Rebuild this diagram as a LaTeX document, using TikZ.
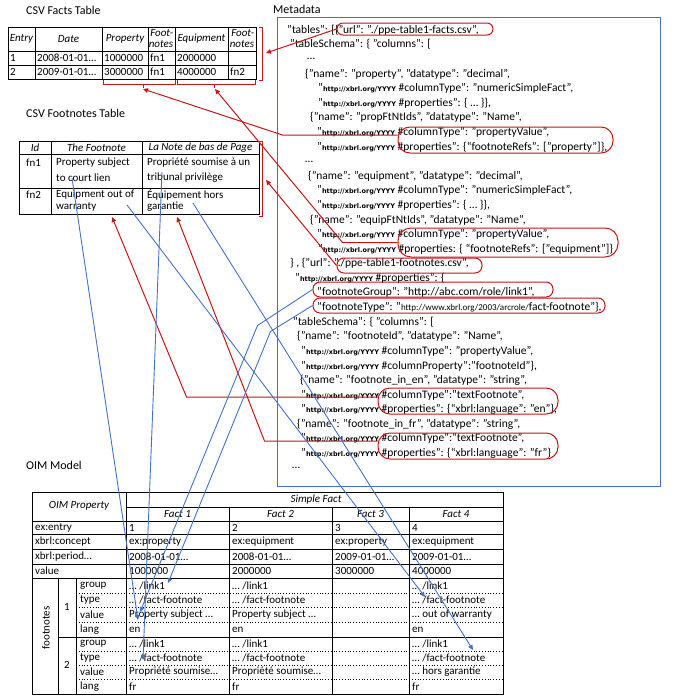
\documentclass[tikz,border=0pt]{standalone}
\usepackage{fontspec}
\setmainfont{Carlito}
\newfontfamily\urlfont{DejaVu Sans}
\usetikzlibrary{arrows.meta}
\definecolor{rd}{RGB}{200,20,20}
\definecolor{bl}{RGB}{68,114,196}
\newcommand\hx{{\urlfont\bfseries\fontsize{6.5}{8}\selectfont http://xbrl.org/YYYY}}
\newcommand\hy{{\fontsize{9}{10}\selectfont http://www.xbrl.org/2003/arcrole/}}
\begin{document}
\begin{tikzpicture}[x=1pt,y=-1pt,
  ttl/.style={font=\fontsize{12}{14}\selectfont, anchor=west, inner sep=0},
  md/.style={font=\fontsize{11.5}{13}\selectfont, anchor=west, inner sep=0},
  tb/.style={font=\fontsize{11}{13}\selectfont, anchor=west, inner sep=0},
  hd/.style={font=\fontsize{11}{11}\selectfont\itshape, inner sep=0, align=center},
  hdr/.style={font=\fontsize{11}{11}\selectfont\itshape, inner sep=0, align=right},
  grid/.style={line width=1pt, black},
  dotl/.style={line width=0.8pt, black, dotted},
  oval/.style={draw=rd, line width=1pt, rounded corners=#1, inner sep=0},
  rbr/.style={draw=rd, line width=1pt},
  rarr/.style={draw=rd, line width=1pt, -{Triangle[length=5pt,width=4.5pt]}},
  barr/.style={draw=bl, line width=0.9pt, -{Triangle[length=5pt,width=4.5pt]}},
]
\useasboundingbox (0,0) rectangle (687,696);

% titles
\node[ttl] (tFacts) at (26,10) {CSV Facts Table};
\node[ttl] (tFoot) at (26,113) {CSV Footnotes Table};
\node[ttl] (tMeta) at (273,9) {Metadata};
\node[ttl] (tOIM) at (26,465) {OIM Model};

% ---------- CSV facts table ----------
\draw[grid] (8,27) rectangle (256,79);
\draw[grid] (8,51) -- (256,51) (8,65) -- (256,65);
\foreach \x in {35,102,148,175,228} \draw[grid] (\x,27) -- (\x,79);
\node[hd] (fh1) at (21.5,39) {Entry};
\node[hd] (fh2) at (68.5,39) {Date};
\node[hd] (fh3) at (125,39) {Property};
\node[hdr] (fh4) at (161,39) {Foot-\\notes};
\node[hd] (fh5) at (201.5,39) {Equipment};
\node[hdr] (fh6) at (242,39) {Foot-\\notes};
\node[tb] (fa1) at (10,58) {1};
\node[tb] (fa2) at (37,58) {2008-01-01…};
\node[tb] (fa3) at (104,58) {1000000};
\node[tb] (fa4) at (150,58) {fn1};
\node[tb] (fa5) at (177,58) {2000000};
\node[tb] (fb1) at (10,72) {2};
\node[tb] (fb2) at (37,72) {2009-01-01…};
\node[tb] (fb3) at (104,72) {3000000};
\node[tb] (fb4) at (150,72) {fn1};
\node[tb] (fb5) at (177,72) {4000000};
\node[tb] (fb6) at (230,72) {fn2};
% brackets
\draw[rbr] (259,27) -- (262,27) -- (262,80) -- (259,80);
\draw[rbr] (103,80) -- (103,84) -- (175,84) -- (175,80) (143,84) -- (143,88);
\draw[rbr] (177,80) -- (177,84) -- (255,84) -- (255,80) (214,84) -- (214,88);
\coordinate (tkP) at (143,89);
\coordinate (tkE) at (215,89);
\coordinate (cR1) at (266,53);

% ---------- CSV footnotes table ----------
\draw[grid] (19,141) rectangle (259,214);
\draw[grid] (19,154) -- (259,154) (19,188) -- (259,188);
\foreach \x in {51,142} \draw[grid] (\x,141) -- (\x,214);
\node[hd] (nh1) at (35,147.5) {Id};
\node[hd] (nh2) at (96.5,147.5) {The Footnote};
\node[hd] (nh3) at (200.5,147.5) {La Note de bas de Page};
\node[tb] (na1) at (26,163) {fn1};
\node[tb] (na2) at (56,163) {Property subject};
\node[tb] (na2b) at (56,178) {to court lien};
\node[tb] (na3) at (147,163) {Propriété soumise à un};
\node[tb] (na3b) at (147,178) {tribunal privilège};
\node[tb] (nb1) at (26,195) {fn2};
\node[tb] (nb2) at (56,195) {Equipment out of};
\node[tb] (nb2b) at (56,207) {warranty};
\node[tb] (nb3) at (147,195) {Équipement hors};
\node[tb] (nb3b) at (147,207) {garantie};
\draw[rbr] (259,141) -- (262,141) -- (262,216) -- (259,216);
\coordinate (cR4) at (266,180);
\coordinate (cEn) at (112,217);
\coordinate (cFr) at (177,217);

% ---------- Metadata ----------
\draw[draw=bl, line width=1pt] (277,17) rectangle (660,486);
\node[md] (m1) at (287,30.0) {"tables": [\{"url": "./ppe-table1-facts.csv",};
\node[md] (m2) at (290,44.6) {"tableSchema": \{ "columns": [};
\node[md] (m3) at (307,59.2) {…};
\node[md] (m4) at (305,73.8) {\{"name": "property", "datatype": "decimal",};
\node[md] (m5) at (318,88.4) {"\hx\ \#columnType": "numericSimpleFact",};
\node[md] (m6) at (318,103.0) {"\hx\ \#properties": \{ … \}\},};
\node[md] (m7) at (310,117.6) {\{"name": "propFtNtIds", "datatype": "Name",};
\node[md] (m8) at (317,132.2) {"\hx\ \#columnType": "propertyValue",};
\node[md] (m9) at (317,146.8) {"\hx\ \#properties": \{“footnoteRefs": ["property"]\},};
\node[md] (m10) at (305,161.4) {…};
\node[md] (m11) at (308,176.0) {\{"name": "equipment", "datatype": "decimal",};
\node[md] (m12) at (317,190.6) {"\hx\ \#columnType": "numericSimpleFact",};
\node[md] (m13) at (317,205.2) {"\hx\ \#properties": \{ … \}\},};
\node[md] (m14) at (310,219.8) {\{"name": "equipFtNtIds", "datatype": "Name",};
\node[md] (m15) at (317,234.4) {"\hx\ \#columnType": "propertyValue",};
\node[md] (m16) at (318,249.0) {"\hx\ \#properties: \{ “footnoteRefs": ["equipment"]\}};
\node[md] (m17) at (290,263.6) {\} , \{"url": "./ppe-table1-footnotes.csv",};
\node[md] (m18) at (295,278.2) {"\hx\ \#properties": \{};
\node[md] (m19) at (317,292.8) {"footnoteGroup": "http://abc.com/role/link1",};
\node[md] (m20) at (317,307.4) {"footnoteType": "\hy fact-footnote"\},};
\node[md] (m21) at (293,322.0) {"tableSchema": \{ "columns": [};
\node[md] (m22) at (297,336.6) {\{"name": "footnoteId", "datatype": "Name",};
\node[md] (m23) at (301,351.2) {"\hx\ \#columnType": "propertyValue",};
\node[md] (m24) at (301,365.8) {"\hx\ \#columnProperty":"footnoteId"\},};
\node[md] (m25) at (300,380.4) {\{"name": "footnote\_in\_en", "datatype": "string",};
\node[md] (m26) at (301,395.0) {"\hx\ \#columnType":"textFootnote",};
\node[md] (m27) at (301,409.6) {"\hx\ \#properties": \{“xbrl:language”: "en"\},};
\node[md] (m28) at (297,424.2) {\{"name": "footnote\_in\_fr", "datatype": "string",};
\node[md] (m29) at (301,438.8) {"\hx\ \#columnType":"textFootnote",};
\node[md] (m30) at (301,453.4) {"\hx\ \#properties": \{“xbrl:language”: "fr"\}};
\node[md] (m31) at (292,468.0) {…};

% ovals
\node[oval=6pt, minimum width=156pt, minimum height=12pt] (E1) at (415,29) {};
\node[oval=12pt, minimum width=215pt, minimum height=26pt] (E2) at (505.5,140) {};
\node[oval=13pt, minimum width=220pt, minimum height=29pt] (E3) at (508,242.5) {};
\node[oval=7pt, minimum width=145pt, minimum height=15pt] (E4) at (409.5,265.5) {};
\node[oval=7pt, minimum width=240pt, minimum height=15pt] (E5) at (433,289.5) {};
\node[oval=7pt, minimum width=292pt, minimum height=15pt] (E6) at (459,305.5) {};
\node[oval=12pt, minimum width=180pt, minimum height=26pt] (E7) at (468,401) {};
\node[oval=12pt, minimum width=180pt, minimum height=26pt] (E8) at (468,446) {};

% ---------- OIM table ----------
\draw[grid] (32,492) rectangle (503,694);
\draw[grid] (126,507) -- (503,507);
\draw[grid] (126,492) -- (126,694);
\foreach \x in {229,332,409} \draw[grid] (\x,507) -- (\x,694);
\foreach \y in {521,534,549,564,578} \draw[grid] (32,\y) -- (503,\y);
\draw[grid] (58,578) -- (58,694) (76,578) -- (76,694);
\draw[grid] (58,637) -- (503,637);
\foreach \y in {593,607,622,651,665,679} \draw[dotl] (76,\y) -- (503,\y);
\node[hd] (oh0) at (79,506) {OIM Property};
\node[hd] (oh1) at (316,499.5) {Simple Fact};
\node[hd] (oh2) at (177.5,514) {Fact 1};
\node[hd] (oh3) at (280.5,514) {Fact 2};
\node[hd] (oh4) at (370.5,514) {Fact 3};
\node[hd] (oh5) at (456,514) {Fact 4};
\node[tb] (ol1) at (35,527.5) {ex:entry};
\node[tb] (ol2) at (35,541.5) {xbrl:concept};
\node[tb] (ol3) at (35,556.5) {xbrl:period…};
\node[tb] (ol4) at (35,571) {value};
\node[font=\fontsize{11}{13}\selectfont, rotate=90, inner sep=0] (olf) at (46,628) {footnotes};
\node[tb, anchor=center] (on1) at (67,607) {1};
\node[tb, anchor=center] (on2) at (67,665) {2};
\foreach \i/\y/\t in {a/585.5/group, b/600/type, c/614.5/value, d/629.5/lang,
                      e/644/group, f/658/type, g/672/value, h/686.5/lang}
  \node[tb] (ok\i) at (80,\y) {\t};
% fact 1
\node[tb] (p11) at (129,527.5) {1};
\node[tb] (p12) at (129,541.5) {ex:property};
\node[tb] (p13) at (129,556.5) {2008-01-01…};
\node[tb] (p14) at (129,571) {1000000};
\node[tb] (p15) at (129,585.5) {… /link1};
\node[tb] (p16) at (129,600) {… /fact-footnote};
\node[tb] (p17) at (129,614.5) {Property subject …};
\node[tb] (p18) at (129,629.5) {en};
\node[tb] (p19) at (129,644) {… /link1};
\node[tb] (p1a) at (129,658) {… /fact-footnote};
\node[tb] (p1b) at (129,672) {Propriété soumise…};
\node[tb] (p1c) at (129,686.5) {fr};
% fact 2
\node[tb] (p21) at (232,527.5) {2};
\node[tb] (p22) at (232,541.5) {ex:equipment};
\node[tb] (p23) at (232,556.5) {2008-01-01…};
\node[tb] (p24) at (232,571) {2000000};
\node[tb] (p25) at (232,585.5) {… /link1};
\node[tb] (p26) at (232,600) {… /fact-footnote};
\node[tb] (p27) at (232,614.5) {Property subject …};
\node[tb] (p28) at (232,629.5) {en};
\node[tb] (p29) at (232,644) {… /link1};
\node[tb] (p2a) at (232,658) {… /fact-footnote};
\node[tb] (p2b) at (232,672) {Propriété soumise…};
\node[tb] (p2c) at (232,686.5) {fr};
% fact 3
\node[tb] (p31) at (335,527.5) {3};
\node[tb] (p32) at (335,541.5) {ex:property};
\node[tb] (p33) at (335,556.5) {2009-01-01…};
\node[tb] (p34) at (335,571) {3000000};
% fact 4
\node[tb] (p41) at (412,527.5) {4};
\node[tb] (p42) at (412,541.5) {ex:equipment};
\node[tb] (p43) at (412,556.5) {2009-01-01…};
\node[tb] (p44) at (412,571) {4000000};
\node[tb] (p45) at (412,585.5) {… /link1};
\node[tb] (p46) at (412,600) {… /fact-footnote};
\node[tb] (p47) at (412,614.5) {… out of warranty};
\node[tb] (p48) at (412,629.5) {en};
\node[tb] (p49) at (412,644) {… /link1};
\node[tb] (p4a) at (412,658) {… /fact-footnote};
\node[tb] (p4b) at (412,672) {… hors garantie};
\node[tb] (p4c) at (412,686.5) {fr};

% ---------- connectors ----------
\draw[rarr] (E1.west) -- (cR1);
\draw[rarr] ([yshift=5pt]E2.west) -- ++(-115,0) -- (tkP);
\draw[rarr] (E3.west) -- ++(-55,0) -- (tkE);
\draw[rarr] (E4.west) -- (cR4);
\draw[rarr] ([yshift=4pt]E7.west) -- ++(-191,0) -- (cEn);
\draw[rarr] ([yshift=5pt]E8.west) -- ++(-113,0) -- (cFr);

\coordinate (sPS) at (72,178);
\coordinate (sPR) at (162,172);
\coordinate (sEW) at (127,205);
\coordinate (sEG) at (193,203);
\coordinate (t1v) at (138,620);
\coordinate (t1f) at (143,660);
\coordinate (t1g) at (168,583);
\coordinate (t1x) at (140,612);
\coordinate (t4a) at (425,597);
\coordinate (t4b) at (473,650);
\draw[barr] (sPS) -- (t1v);
\draw[barr] (sPR) -- (t1f);
\draw[barr] (E5.west) -- ++(-55,36) -- (t1x);
\draw[barr] (E6.west) -- ++(-42,26) -- (t1g);
\draw[barr] (sEW) -- (t4a);
\draw[barr] (sEG) -- (t4b);
\end{tikzpicture}
\end{document}
